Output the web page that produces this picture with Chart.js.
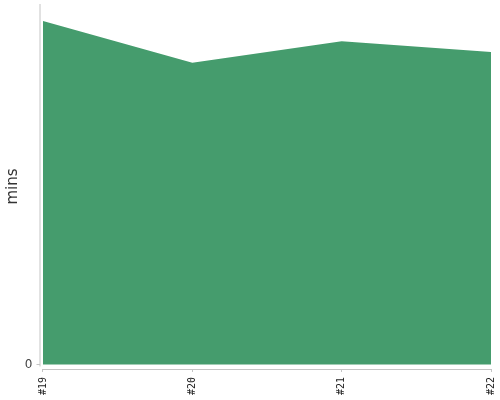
<!DOCTYPE html>
<html>
<head>
<meta charset="utf-8">
<script src="https://cdn.jsdelivr.net/npm/chart.js@4"></script>
<style>
  html, body { margin: 0; padding: 0; background: #fff; }
  #wrap { width: 500px; height: 400px; position: relative; }
</style>
</head>
<body>
<div id="wrap"><canvas id="myChart"></canvas></div>
<script>
const labels = ["#19", "#20", "#21", "#22"];
const mins = [95.3, 83.7, 89.7, 86.7];
const yTicks = [0];

const chart = document.getElementById("myChart");

// axis lines drawn apart from each other, like the original
const axisLines = {
  id: "axisLines",
  afterDraw(c) {
    const ctx = c.ctx;
    const x = c.scales.x, y = c.scales.y;
    const a = c.chartArea;
    ctx.save();
    ctx.strokeStyle = "#c4c4c4";
    ctx.lineWidth = 1;
    ctx.beginPath();
    ctx.moveTo(a.left + 0.5, a.top);
    ctx.lineTo(a.left + 0.5, y.getPixelForValue(0) + 2);
    ctx.moveTo(x.getPixelForValue(0), a.bottom + 0.5);
    ctx.lineTo(x.getPixelForValue(labels.length - 1), a.bottom + 0.5);
    ctx.stroke();
    ctx.restore();
  },
};

new Chart(chart, {
  type: "line",
  data: {
    datasets: [
      {
        label: "mins",
        data: mins.map((v, i) => ({ x: i, y: v })),
        backgroundColor: "rgb(69, 156, 109)",
        borderColor: "rgb(69, 156, 109)",
        borderWidth: 0,
        pointRadius: 0,
        fill: "origin",
        tension: 0,
      },
    ],
  },
  options: {
    responsive: true,
    maintainAspectRatio: false,
    animation: false,
    layout: { padding: { left: 0, top: 4, right: 9, bottom: 0 } },
    plugins: {
      legend: { display: false },
      tooltip: { enabled: false },
    },
    scales: {
      x: {
        type: "linear",
        min: -0.0234,
        max: labels.length - 1,
        afterBuildTicks: (s) => {
          s.ticks = labels.map((l, i) => ({ value: i }));
        },
        afterFit: (s) => {
          s.height = 31;
          s.paddingLeft = 0;
          s.paddingRight = 0;
        },
        grid: {
          display: true,
          drawOnChartArea: false,
          drawTicks: true,
          tickLength: 3,
          color: "#c4c4c4",
        },
        border: { display: false },
        ticks: {
          autoSkip: false,
          maxRotation: 90,
          minRotation: 90,
          padding: 5,
          color: "#222",
          font: { family: "DejaVu Sans Mono", size: 10 },
          callback: (v) => labels[v],
        },
      },
      y: {
        min: -1.25,
        max: 100,
        afterBuildTicks: (s) => {
          s.ticks = yTicks.map((v) => ({ value: v }));
        },
        afterFit: (s) => {
          s.width = 39.5;
          s.paddingTop = 0;
          s.paddingBottom = 0;
        },
        grid: {
          display: true,
          drawOnChartArea: false,
          drawTicks: true,
          tickLength: 3,
          color: "#c4c4c4",
        },
        border: { display: false },
        ticks: {
          padding: 4,
          color: "#444",
          font: { family: "DejaVu Sans", size: 12 },
        },
        title: {
          display: true,
          text: "mins",
          color: "#333",
          font: { family: "DejaVu Sans", size: 15 },
          padding: { top: 4, bottom: 0 },
        },
      },
    },
  },
  plugins: [axisLines],
});
</script>
</body>
</html>
